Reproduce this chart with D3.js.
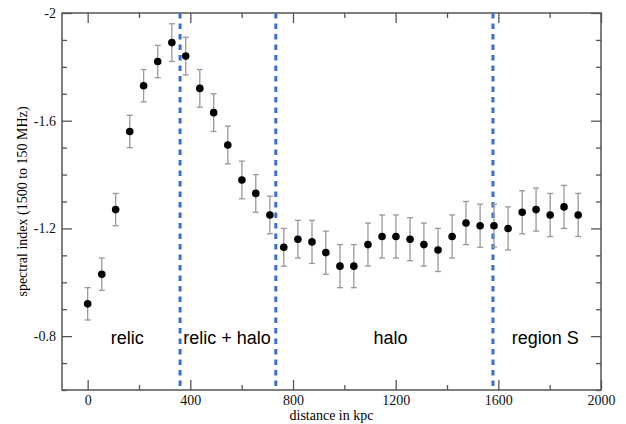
<!DOCTYPE html>
<html>
<head>
<meta charset="utf-8">
<script src="https://cdn.jsdelivr.net/npm/d3@7"></script>
<style>
  body { margin: 0; background: #fff; }
</style>
</head>
<body>
<div id="chart"></div>
<script>
const distance = [0, 55, 109, 164, 218, 273, 328, 382, 437, 491, 546, 601, 655, 710, 764, 819, 874, 928,
  983, 1037, 1092, 1147, 1201, 1256, 1310, 1365, 1420, 1474, 1529, 1583, 1638, 1693, 1747, 1802, 1856, 1911];
const alpha = [-0.92, -1.03, -1.27, -1.56, -1.73, -1.82, -1.89, -1.84, -1.72, -1.63, -1.51, -1.38, -1.33, -1.25,
  -1.13, -1.16, -1.15, -1.11, -1.06, -1.06, -1.14, -1.17, -1.17, -1.16, -1.14, -1.12, -1.17, -1.22, -1.21,
  -1.21, -1.20, -1.26, -1.27, -1.25, -1.28, -1.25];
const alphaErr = [0.06, 0.06, 0.06, 0.06, 0.06, 0.06, 0.07, 0.07, 0.07, 0.07, 0.07, 0.07, 0.07, 0.07,
  0.07, 0.07, 0.08, 0.08, 0.08, 0.08, 0.08, 0.08, 0.08, 0.08, 0.08, 0.08, 0.08, 0.08, 0.08,
  0.08, 0.08, 0.08, 0.08, 0.08, 0.08, 0.08];
const boundaries = [360, 733, 1579];
const regionNames = ["relic", "relic + halo", "halo", "region S"];
const regionCenters = [154, 543, 1180, 1783];
const xTicks = [0, 400, 800, 1200, 1600, 2000];
const yTicks = [-2, -1.6, -1.2, -0.8];

const width = 626, height = 424;
const margin = { top: 13, right: 25, bottom: 34, left: 62 };

const points = distance.map((d, i) => ({ x: d, y: alpha[i], e: alphaErr[i] }));

const x = d3.scaleLinear().domain([-100, 2000]).range([margin.left, width - margin.right]);
const y = d3.scaleLinear().domain([-0.6, -2]).range([height - margin.bottom, margin.top]);

const svg = d3.select("#chart").append("svg")
  .attr("width", width)
  .attr("height", height);

const axisColor = "#555";
const serif = "'Liberation Serif', 'Times New Roman', serif";

// axes with inward ticks, major + minor
const xMinor = d3.range(0, 2001, 200).filter(v => !xTicks.includes(v));
const yMinor = d3.range(-2, -0.59, 0.1).map(v => +v.toFixed(1)).filter(v => !yTicks.includes(v));

const addAxis = (axis, transform, cls) => {
  const g = svg.append("g").attr("class", cls).attr("transform", transform).call(axis);
  g.select(".domain").remove();
  g.selectAll(".tick line").attr("stroke", axisColor).attr("stroke-width", 1.3);
  g.selectAll(".tick text")
    .style("font-family", serif)
    .style("font-size", "14px")
    .attr("fill", "#111");
  return g;
};

const bottomY = height - margin.bottom;
const rightX = width - margin.right;

addAxis(d3.axisBottom(x).tickValues(xTicks).tickSize(-10).tickPadding(5).tickFormat(d => String(d)),
  `translate(0,${bottomY})`, "x-axis");
addAxis(d3.axisBottom(x).tickValues(xMinor).tickSize(-5).tickFormat(""), `translate(0,${bottomY})`, "x-minor");
addAxis(d3.axisTop(x).tickValues(xTicks).tickSize(-10).tickFormat(""), `translate(0,${margin.top})`, "x-top");
addAxis(d3.axisTop(x).tickValues(xMinor).tickSize(-5).tickFormat(""), `translate(0,${margin.top})`, "x-top-minor");

addAxis(d3.axisLeft(y).tickValues(yTicks).tickSize(-10).tickPadding(6).tickFormat(d => String(d)),
  `translate(${margin.left},0)`, "y-axis");
addAxis(d3.axisLeft(y).tickValues(yMinor).tickSize(-5).tickFormat(""), `translate(${margin.left},0)`, "y-minor");
addAxis(d3.axisRight(y).tickValues(yTicks).tickSize(-10).tickFormat(""), `translate(${rightX},0)`, "y-right");
addAxis(d3.axisRight(y).tickValues(yMinor).tickSize(-5).tickFormat(""), `translate(${rightX},0)`, "y-right-minor");

// frame
svg.append("rect")
  .attr("x", margin.left)
  .attr("y", margin.top)
  .attr("width", rightX - margin.left)
  .attr("height", bottomY - margin.top)
  .attr("fill", "none")
  .attr("stroke", axisColor)
  .attr("stroke-width", 1.5);

// region boundaries
svg.append("g")
  .selectAll("line")
  .data(boundaries)
  .enter()
  .append("line")
  .attr("x1", d => x(d))
  .attr("x2", d => x(d))
  .attr("y1", margin.top)
  .attr("y2", bottomY)
  .attr("stroke", "#3a6fd0")
  .attr("stroke-width", 3)
  .attr("stroke-dasharray", "5.5,5");

// error bars
const err = svg.append("g").attr("stroke", "#999").attr("stroke-width", 1.3);
err.selectAll(".bar")
  .data(points)
  .enter()
  .append("line")
  .attr("x1", d => x(d.x))
  .attr("x2", d => x(d.x))
  .attr("y1", d => y(d.y - d.e))
  .attr("y2", d => y(d.y + d.e));
["top", "bot"].forEach(side => {
  err.selectAll(".cap-" + side)
    .data(points)
    .enter()
    .append("line")
    .attr("x1", d => x(d.x) - 3)
    .attr("x2", d => x(d.x) + 3)
    .attr("y1", d => y(side === "top" ? d.y - d.e : d.y + d.e))
    .attr("y2", d => y(side === "top" ? d.y - d.e : d.y + d.e));
});

// points
svg.append("g")
  .selectAll("circle")
  .data(points)
  .enter()
  .append("circle")
  .attr("cx", d => x(d.x))
  .attr("cy", d => y(d.y))
  .attr("r", 3.8)
  .attr("fill", "#000");

// region labels
svg.append("g")
  .selectAll("text")
  .data(regionNames)
  .enter()
  .append("text")
  .attr("x", (d, i) => x(regionCenters[i]))
  .attr("y", 344)
  .attr("text-anchor", "middle")
  .style("font-family", "'Liberation Sans', Arial, sans-serif")
  .style("font-size", "18px")
  .attr("fill", "#000")
  .text(d => d);

// axis titles
svg.append("text")
  .attr("x", (margin.left + rightX) / 2)
  .attr("y", 420)
  .attr("text-anchor", "middle")
  .style("font-family", serif)
  .style("font-size", "14px")
  .text("distance in kpc");

svg.append("text")
  .attr("transform", `translate(27,${(margin.top + bottomY) / 2}) rotate(-90)`)
  .attr("text-anchor", "middle")
  .style("font-family", serif)
  .style("font-size", "14px")
  .text("spectral index (1500 to 150 MHz)");
</script>
</body>
</html>
